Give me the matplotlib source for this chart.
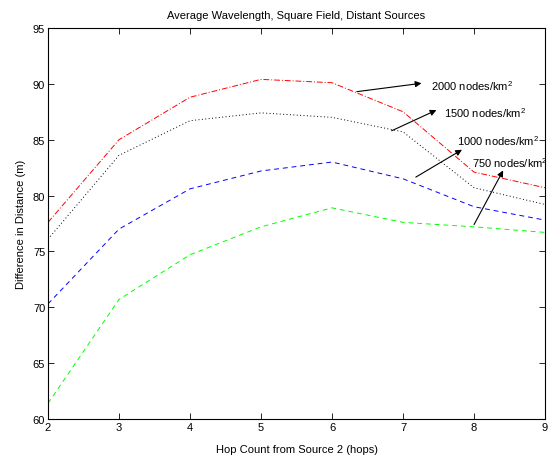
import matplotlib
matplotlib.use("Agg")
import matplotlib.pyplot as plt

plt.rcParams['font.family'] = ['Liberation Sans', 'DejaVu Sans']
plt.rcParams['mathtext.fontset'] = 'custom'
plt.rcParams['mathtext.rm'] = 'Liberation Sans'

# hop counts and the four density curves
hops = [2, 3, 4, 5, 6, 7, 8, 9]
d2000 = [77.6, 85.0, 88.8, 90.4, 90.1, 87.5, 82.1, 80.7]
d1500 = [76.1, 83.6, 86.7, 87.4, 87.0, 85.7, 80.7, 79.2]
d1000 = [70.3, 77.0, 80.6, 82.2, 83.0, 81.5, 79.0, 77.8]
d750 = [61.4, 70.7, 74.7, 77.2, 78.9, 77.6, 77.2, 76.7]

labels = ['2000 nodes/km$^2$', '1500 nodes/km$^2$',
          '1000 nodes/km$^2$', '750 nodes/km$^2$']

fig = plt.figure(figsize=(5.48, 4.6), dpi=100)
ax = fig.add_axes([0.0876, 0.087, 0.907, 0.85])

lw = 0.7
ax.plot(hops, d2000, color=(1, 0, 0), linestyle=(0, (6, 2, 1, 2)), linewidth=lw)
ax.plot(hops, d1500, color=(0, 0, 0), linestyle=(0, (1, 2.5)), linewidth=lw)
ax.plot(hops, d1000, color=(0, 0, 1), linestyle=(0, (5, 4)), linewidth=lw)
ax.plot(hops, d750, color=(0, 1, 0), linestyle=(0, (5, 4)), linewidth=lw)

# arrows pointing at the labels (tail, head) and label positions
arrows = [((6.35, 89.3), (7.26, 90.05)),
          ((6.84, 85.8), (7.47, 87.65)),
          ((7.18, 81.65), (7.83, 84.1)),
          ((8.0, 77.4), (8.41, 82.25))]
text_pos = [(7.39, 89.9), (7.58, 87.5), (7.76, 84.95), (7.97, 83.0)]

fs = 8
for (tail, head), (tx, ty), lab in zip(arrows, text_pos, labels):
    ax.annotate('', xy=head, xytext=tail,
                arrowprops=dict(arrowstyle='-|>', color='k', lw=0.8,
                                mutation_scale=9, shrinkA=0, shrinkB=0))
    ax.text(tx, ty, lab, fontsize=fs, va='center', ha='left')

ax.set_xlim(2, 9)
ax.set_ylim(60, 95)
ax.set_xticks(hops)
ax.set_yticks(range(60, 96, 5))
ax.tick_params(direction='in', top=True, right=True, labelsize=fs,
               length=4, width=0.6, pad=2)
for s in ax.spines.values():
    s.set_linewidth(0.8)

ax.set_title('Average Wavelength, Square Field, Distant Sources', fontsize=fs, pad=7)
ax.set_xlabel('Hop Count from Source 2 (hops)', fontsize=fs, labelpad=9)
ax.set_ylabel('Difference in Distance (m)', fontsize=fs, labelpad=5)

fig.savefig('out.png', dpi=100)
